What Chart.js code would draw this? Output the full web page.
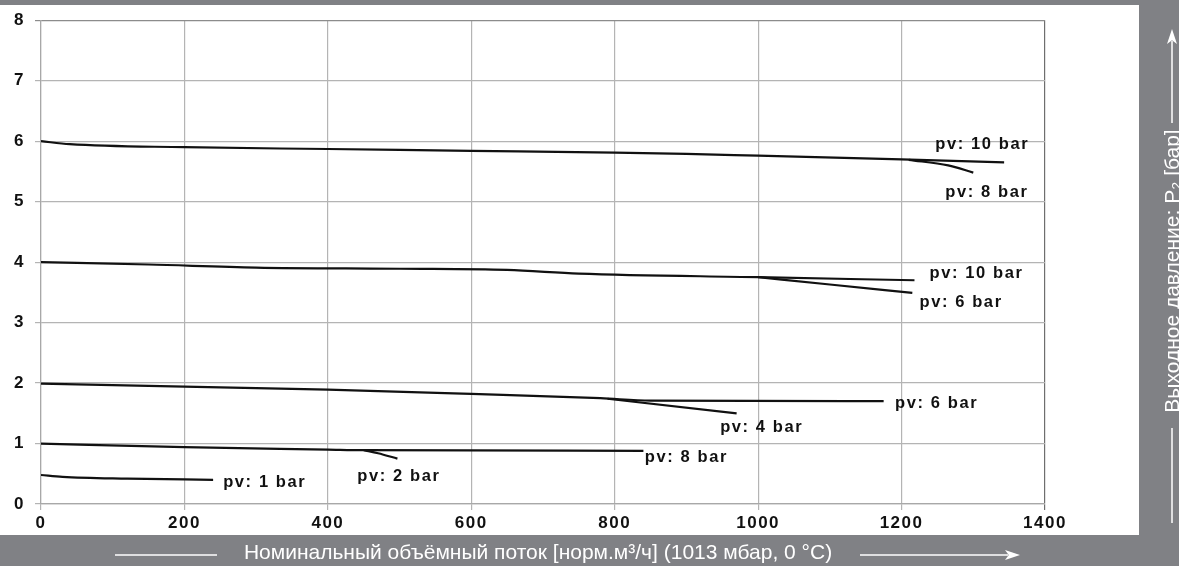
<!DOCTYPE html>
<html>
<head>
<meta charset="utf-8">
<script src="https://cdn.jsdelivr.net/npm/chart.js@4.4.1/dist/chart.umd.min.js"></script>
<style>
  html, body { margin: 0; padding: 0; background: #808185; }
  #wrap { width: 1179px; height: 566px; }
</style>
</head>
<body>
<div id="wrap"><canvas id="pressureChart"></canvas></div>
<script>
// curves: flow [m3/h] vs outlet pressure [bar]
const line1X = [0, 30, 120, 240];
const line1Y = [0.48, 0.45, 0.42, 0.40];

const line2X = [0, 200, 400, 450, 840];
const line2Y = [1.0, 0.94, 0.90, 0.89, 0.88];
const branch2X = [450, 470, 497];
const branch2Y = [0.89, 0.84, 0.75];

const line3X = [0, 200, 400, 600, 780, 850, 1175];
const line3Y = [1.99, 1.94, 1.89, 1.82, 1.75, 1.71, 1.70];
const branch3X = [790, 970];
const branch3Y = [1.74, 1.50];

const line4X = [0, 150, 300, 500, 650, 750, 1000, 1218];
const line4Y = [4.0, 3.96, 3.91, 3.89, 3.87, 3.81, 3.75, 3.70];
const branch4X = [1000, 1100, 1215];
const branch4Y = [3.75, 3.63, 3.49];

const line5X = [0, 40, 200, 400, 600, 800, 900, 1000, 1200, 1343];
const line5Y = [6.0, 5.95, 5.90, 5.87, 5.84, 5.81, 5.79, 5.76, 5.70, 5.65];
const branch5X = [1210, 1265, 1300];
const branch5Y = [5.69, 5.60, 5.48];

// curve labels, anchored in data units (left edge, vertical middle)
const curveLabels = ['pv: 10 bar', 'pv: 8 bar', 'pv: 10 bar', 'pv: 6 bar', 'pv: 6 bar', 'pv: 4 bar', 'pv: 8 bar', 'pv: 2 bar', 'pv: 1 bar'];
const curveLabelX = [1247, 1261, 1239, 1225, 1191, 947, 842, 441, 254];
const curveLabelY = [5.94, 5.15, 3.82, 3.33, 1.66, 1.27, 0.77, 0.46, 0.35];

const xTitle = 'Номинальный объёмный поток [норм.м³/ч] (1013 мбар, 0 °C)';
const yTitle = 'Выходное давление: P₂ [бар]';

function pts(xs, ys) {
    return xs.map(function(x, i) { return { x: x, y: ys[i] }; });
}

const curves = [
    [line1X, line1Y], [line2X, line2Y], [branch2X, branch2Y],
    [line3X, line3Y], [branch3X, branch3Y],
    [line4X, line4Y], [branch4X, branch4Y],
    [line5X, line5Y], [branch5X, branch5Y]
];

const datasets = curves.map(function(c) {
    return {
        data: pts(c[0], c[1]),
        borderColor: '#111111',
        borderWidth: 2.2,
        pointRadius: 0,
        cubicInterpolationMode: 'monotone',
        fill: false
    };
});

function arrow(ctx, x1, y1, x2, y2) {
    const ang = Math.atan2(y2 - y1, x2 - x1);
    const len = 15, half = 5;
    ctx.beginPath();
    ctx.moveTo(x1, y1);
    ctx.lineTo(x2 - Math.cos(ang) * len * 0.8, y2 - Math.sin(ang) * len * 0.8);
    ctx.stroke();
    ctx.beginPath();
    ctx.moveTo(x2, y2);
    ctx.lineTo(x2 - Math.cos(ang) * len - Math.sin(ang) * half, y2 - Math.sin(ang) * len + Math.cos(ang) * half);
    ctx.lineTo(x2 - Math.cos(ang) * len * 0.75, y2 - Math.sin(ang) * len * 0.75);
    ctx.lineTo(x2 - Math.cos(ang) * len + Math.sin(ang) * half, y2 - Math.sin(ang) * len - Math.cos(ang) * half);
    ctx.closePath();
    ctx.fill();
}

const framePlugin = {
    id: 'frame',
    beforeDraw: function(chart) {
        const ctx = chart.ctx;
        ctx.save();
        ctx.fillStyle = '#808185';
        ctx.fillRect(0, 0, chart.width, chart.height);
        ctx.fillStyle = '#ffffff';
        ctx.fillRect(0, 5, 1139, 530);
        ctx.restore();
        ctx.letterSpacing = '1.5px';
    },
    afterDatasetsDraw: function(chart) {
        const ctx = chart.ctx;
        const xs = chart.scales.x, ys = chart.scales.y;
        ctx.save();
        ctx.letterSpacing = '1.6px';
        ctx.font = 'bold 16.5px "Liberation Sans", Arial, sans-serif';
        ctx.fillStyle = '#111111';
        ctx.textAlign = 'left';
        ctx.textBaseline = 'middle';
        curveLabels.forEach(function(t, i) {
            ctx.fillText(t, xs.getPixelForValue(curveLabelX[i]), ys.getPixelForValue(curveLabelY[i]));
        });
        ctx.restore();
    },
    afterDraw: function(chart) {
        const ctx = chart.ctx;
        ctx.save();
        ctx.letterSpacing = '0px';
        ctx.strokeStyle = '#ffffff';
        ctx.fillStyle = '#ffffff';
        ctx.lineWidth = 1.5;
        ctx.font = '21px "Liberation Sans", Arial, sans-serif';
        ctx.textBaseline = 'middle';

        // bottom title with arrow
        ctx.textAlign = 'center';
        ctx.fillText(xTitle, 538, 553);
        ctx.beginPath();
        ctx.moveTo(115, 555);
        ctx.lineTo(217, 555);
        ctx.stroke();
        arrow(ctx, 860, 555, 1020, 555);

        // right title with arrow
        ctx.translate(1173, 271);
        ctx.rotate(-Math.PI / 2);
        ctx.fillText(yTitle, 0, 0);
        ctx.restore();

        ctx.save();
        ctx.strokeStyle = '#ffffff';
        ctx.fillStyle = '#ffffff';
        ctx.lineWidth = 1.5;
        ctx.beginPath();
        ctx.moveTo(1172, 428);
        ctx.lineTo(1172, 523);
        ctx.stroke();
        arrow(ctx, 1172, 123, 1172, 29);
        ctx.restore();
    }
};

const tickFont = { family: '"Liberation Sans", Arial, sans-serif', size: 17, weight: 'bold' };

const ctx = document.getElementById('pressureChart').getContext('2d');
const pressureChart = new Chart(ctx, {
    type: 'line',
    data: { datasets: datasets },
    options: {
        responsive: true,
        maintainAspectRatio: false,
        animation: false,
        layout: {
            padding: { top: 18, right: 134, left: 0, bottom: 0 }
        },
        scales: {
            x: {
                type: 'linear',
                min: 0,
                max: 1400,
                afterFit: function(scale) { scale.height = 62; },
                grid: {
                    color: function(c) { return c.tick && c.tick.value === 1400 ? '#6e6e6e' : '#b4b4b4'; },
                    lineWidth: 1.2,
                    tickLength: 6
                },
                border: { color: '#a8a8a8', width: 1.2 },
                ticks: {
                    stepSize: 200,
                    color: '#111111',
                    font: tickFont,
                    padding: 3,
                    maxRotation: 0,
                    callback: function(v) { return String(v); }
                }
            },
            y: {
                min: 0,
                max: 8,
                afterFit: function(scale) { scale.width = 41; },
                grid: {
                    color: function(c) { return c.tick && c.tick.value === 8 ? '#8c8c8c' : '#b4b4b4'; },
                    lineWidth: 1.2,
                    tickLength: 6
                },
                border: { color: '#a8a8a8', width: 1.2 },
                ticks: {
                    stepSize: 1,
                    color: '#111111',
                    font: tickFont,
                    padding: 10,
                    callback: function(v) { return String(v); }
                }
            }
        },
        plugins: {
            legend: { display: false },
            tooltip: { enabled: false }
        }
    },
    plugins: [framePlugin]
});
</script>
</body>
</html>
